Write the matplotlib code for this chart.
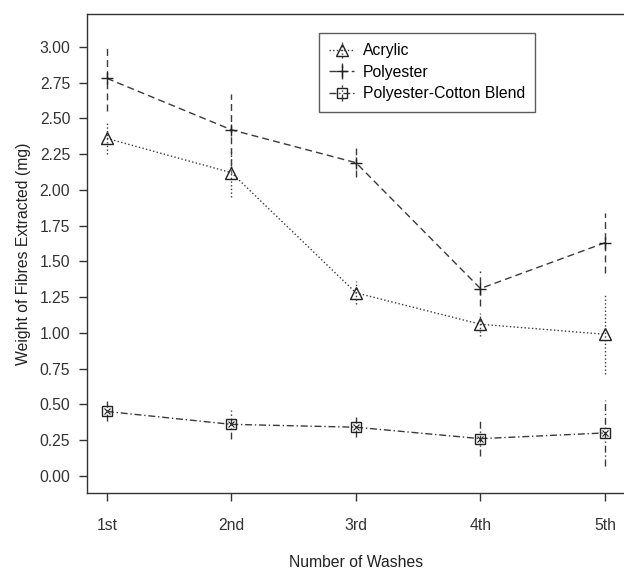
import matplotlib
matplotlib.use("Agg")
import matplotlib.pyplot as plt

plt.rcParams['font.family'] = ['Liberation Sans', 'DejaVu Sans']

washes = [1, 2, 3, 4, 5]
wash_labels = ["1st", "2nd", "3rd", "4th", "5th"]

acrylic = [2.36, 2.12, 1.28, 1.06, 0.99]
acrylic_err = [0.11, 0.17, 0.08, 0.08, 0.28]

polyester = [2.78, 2.42, 2.19, 1.31, 1.63]
polyester_err = [0.23, 0.25, 0.10, 0.12, 0.21]

blend = [0.45, 0.36, 0.34, 0.26, 0.30]
blend_err = [0.07, 0.10, 0.07, 0.12, 0.23]

yticks = [0.0, 0.25, 0.5, 0.75, 1.0, 1.25, 1.5, 1.75, 2.0, 2.25, 2.5, 2.75, 3.0]

col = "#3a3a3a"
fs = 11.3

fig = plt.figure(figsize=(6.24, 5.69), dpi=100)
ax = fig.add_axes([0.1394, 0.1336, 0.862, 0.8418])

series = [
    ("Acrylic", acrylic, acrylic_err, ":", "^", "none"),
    ("Polyester", polyester, polyester_err, (0, (5, 3)), "+", col),
    ("Polyester-Cotton Blend", blend, blend_err, (0, (5, 2, 1, 2)), "s", "none"),
]

for name, vals, err, ls, mk, mfc in series:
    eb = ax.errorbar(washes, vals, yerr=err, color=col, linestyle=ls, linewidth=1.0,
                     marker=mk, markersize=8 if mk != "s" else 7, markerfacecolor=mfc,
                     markeredgecolor="#222222", markeredgewidth=1.0,
                     elinewidth=1.0, capsize=0, label=name)
    eb[2][0].set_linestyle(ls)
    if mk == "s":
        ax.plot(washes, vals, linestyle="none", marker="x", markersize=5,
                color="#222222", markeredgewidth=0.8)

ax.set_xlim(0.84, 5.16)
ax.set_ylim(-0.12, 3.23)
ax.set_xticks(washes)
ax.set_xticklabels(wash_labels)
ax.set_yticks(yticks)
ax.set_yticklabels(["%.2f" % v for v in yticks])
ax.tick_params(direction="out", length=6, width=1, colors="#333333", labelsize=fs, pad=6)
ax.tick_params(axis="x", pad=12)
for s in ax.spines.values():
    s.set_color("#333333")
    s.set_linewidth(1.0)

ax.set_xlabel("Number of Washes", fontsize=fs, color="#222222", labelpad=16)
ax.set_ylabel("Weight of Fibres Extracted (mg)", fontsize=fs, color="#222222", labelpad=6)

leg = ax.legend(loc="upper left", bbox_to_anchor=(319 / 624, 1 - 33 / 569),
                bbox_transform=fig.transFigure, fontsize=fs, frameon=True,
                fancybox=False, edgecolor="#333333", handlelength=1.6,
                borderpad=0.65, labelspacing=0.42, handletextpad=0.55,
                borderaxespad=0)
leg.get_frame().set_linewidth(1.0)

fig.savefig("out.png", dpi=100)
